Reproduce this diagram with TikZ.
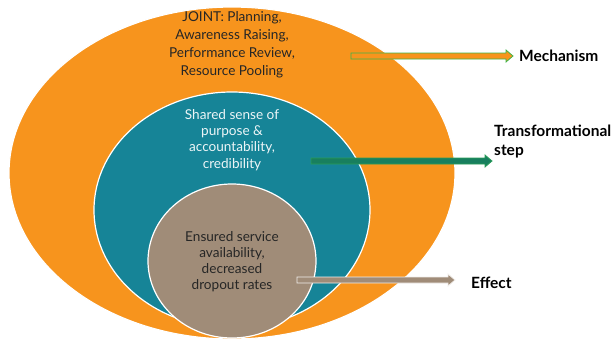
\documentclass[tikz,border=0pt]{standalone}
\usepackage{fontspec}
\setmainfont{Lato}
\usepackage{tikz}
\usetikzlibrary{calc,shapes.geometric}
\tikzset{>=latex}
\usepackage{xcolor}
\definecolor{o1}{HTML}{F7941D}
\definecolor{t1}{HTML}{168497}
\definecolor{br1}{HTML}{A08C78}
\definecolor{g1}{HTML}{3DB54A}
\definecolor{g2}{HTML}{187F5E}
\definecolor{g3}{HTML}{2A9D5A}
\tikzstyle{ring}=[ellipse,draw=white,line width=1.2pt,inner sep=0pt]
\tikzstyle{ringtext}=[align=center,inner sep=0pt,font=\fontsize{13.6}{18}\selectfont]
\tikzstyle{tag}=[anchor=west,align=left,inner sep=0pt,font=\bfseries\fontsize{15.5}{19}\selectfont]
\newcommand{\blockarrow}[3]
{  % #1 = from , #2 = to , #3 = colours
  \filldraw[#3,line width=0.8pt] ($(#1)+(0,3)$) -- ($(#2)+(-7,3)$) -- ($(#2)+(-7,6)$)
     -- (#2) -- ($(#2)+(-7,-6)$) -- ($(#2)+(-7,-3)$) -- ($(#1)+(0,-3)$) -- cycle;
}

\begin{document}
\begin{tikzpicture}[x=1pt,y=-1pt]
  \useasboundingbox (0,0) rectangle (614,338);
  \node[ring,fill=o1,minimum width=446pt,minimum height=332pt] (joint) at (232,173) {};
  \node[ring,fill=t1,minimum width=276pt,minimum height=236pt] (shared) at (232,210) {};
  \node[ring,fill=br1,minimum width=168pt,minimum height=154pt] (ensured) at (232,261) {};
  \node[ringtext,text=black!85] (jointtxt) at (232,45)
       {JOINT: Planning,\\Awareness Raising,\\Performance Review,\\Resource Pooling};
  \node[ringtext,text=white!92!t1,font=\fontsize{13.6}{16.3}\selectfont] (sharedtxt) at (232,140)
       {Shared sense of\\purpose \&\\accountability,\\credibility};
  \node[ringtext,text=black!85,font=\fontsize{13.6}{16}\selectfont] (ensuredtxt) at (232,262)
       {Ensured service\\availability,\\decreased\\dropout rates};
  \node[tag] (mech) at (519,56) {Mechanism};
  \node[tag] (trans) at (494,142) {Transformational\\step};
  \node[tag] (effect) at (471,283) {Effect};
  \coordinate (m0) at (351,56);  \coordinate (m1) at (513,56);
  \coordinate (t0) at (311,161); \coordinate (t1) at (492,161);
  \coordinate (e0) at (297,280); \coordinate (e1) at (455,280);
  \blockarrow{m0}{m1}{draw=g1,fill=o1}
  \blockarrow{t0}{t1}{draw=g3,fill=g2}
  \blockarrow{e0}{e1}{draw=white!85!br1,fill=br1}
\end{tikzpicture}
\end{document}
